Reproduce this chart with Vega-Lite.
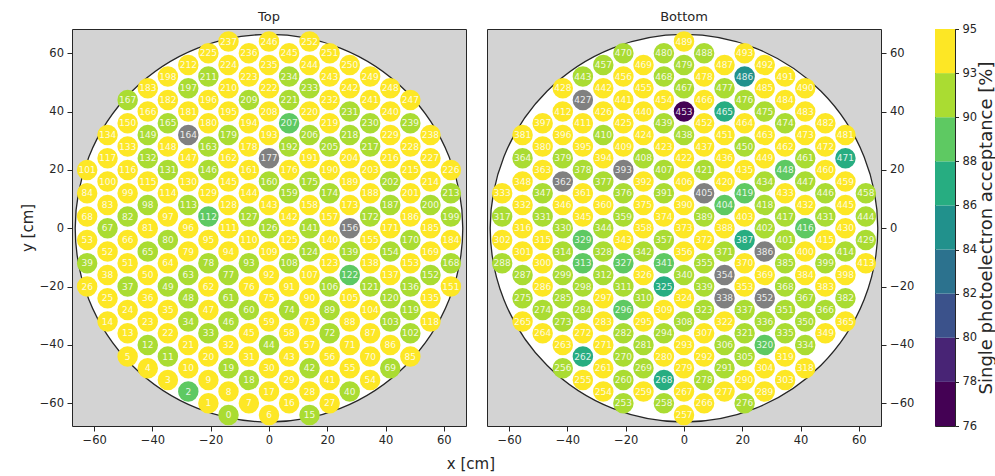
{
"$schema": "https://vega.github.io/schema/vega-lite/v6.json",
"padding": {"left": 19, "top": 10, "right": 0, "bottom": 0},
"config": {
 "font": "DejaVu Sans",
 "axis": {"grid": false, "domain": false, "tickSize": 5, "tickColor": "#262626", "labelFontSize": 11.5, "labelColor": "#262626", "labelPadding": 3.5, "labelFlush": false, "titleFontSize": 15, "titleFontWeight": "normal", "titleColor": "#262626"},
 "title": {"fontSize": 13, "fontWeight": "normal", "color": "#262626", "offset": 5},
 "concat": {"spacing": 19}
},
"title": {"text": "x [cm]", "orient": "bottom", "anchor": "middle", "fontSize": 15, "offset": 10, "dx": -37},
"datasets": {
"top": [
{"n":0,"x":-13.9,"y":-64,"v":91.5},{"n":1,"x":-20.8,"y":-60,"v":94},{"n":2,"x":-27.7,"y":-56,"v":89},{"n":3,"x":-34.7,"y":-52,"v":94},{"n":4,"x":-41.6,"y":-48,"v":94},{"n":5,"x":-48.5,"y":-44,"v":94},
{"n":6,"x":0,"y":-64,"v":94},{"n":7,"x":-6.9,"y":-60,"v":94},{"n":8,"x":-13.9,"y":-56,"v":94},{"n":9,"x":-20.8,"y":-52,"v":94},{"n":10,"x":-27.7,"y":-48,"v":94},{"n":11,"x":-34.7,"y":-44,"v":91.5},{"n":12,"x":-41.6,"y":-40,"v":91.5},{"n":13,"x":-48.5,"y":-36,"v":94},{"n":14,"x":-55.4,"y":-32,"v":94},
{"n":15,"x":13.9,"y":-64,"v":91.5},{"n":16,"x":6.9,"y":-60,"v":94},{"n":17,"x":0,"y":-56,"v":94},{"n":18,"x":-6.9,"y":-52,"v":91.5},{"n":19,"x":-13.9,"y":-48,"v":91.5},{"n":20,"x":-20.8,"y":-44,"v":94},{"n":21,"x":-27.7,"y":-40,"v":94},{"n":22,"x":-34.7,"y":-36,"v":94},{"n":23,"x":-41.6,"y":-32,"v":94},{"n":24,"x":-48.5,"y":-28,"v":94},{"n":25,"x":-55.4,"y":-24,"v":94},{"n":26,"x":-62.4,"y":-20,"v":94},
{"n":27,"x":20.8,"y":-60,"v":94},{"n":28,"x":13.9,"y":-56,"v":94},{"n":29,"x":6.9,"y":-52,"v":94},{"n":30,"x":0,"y":-48,"v":94},{"n":31,"x":-6.9,"y":-44,"v":94},{"n":32,"x":-13.9,"y":-40,"v":94},{"n":33,"x":-20.8,"y":-36,"v":91.5},{"n":34,"x":-27.7,"y":-32,"v":91.5},{"n":35,"x":-34.7,"y":-28,"v":94},{"n":36,"x":-41.6,"y":-24,"v":94},{"n":37,"x":-48.5,"y":-20,"v":91.5},{"n":38,"x":-55.4,"y":-16,"v":94},{"n":39,"x":-62.4,"y":-12,"v":91.5},
{"n":40,"x":27.7,"y":-56,"v":91.5},{"n":41,"x":20.8,"y":-52,"v":94},{"n":42,"x":13.9,"y":-48,"v":91.5},{"n":43,"x":6.9,"y":-44,"v":94},{"n":44,"x":0,"y":-40,"v":91.5},{"n":45,"x":-6.9,"y":-36,"v":94},{"n":46,"x":-13.9,"y":-32,"v":91.5},{"n":47,"x":-20.8,"y":-28,"v":94},{"n":48,"x":-27.7,"y":-24,"v":91.5},{"n":49,"x":-34.7,"y":-20,"v":91.5},{"n":50,"x":-41.6,"y":-16,"v":94},{"n":51,"x":-48.5,"y":-12,"v":94},{"n":52,"x":-55.4,"y":-8,"v":94},{"n":53,"x":-62.4,"y":-4,"v":94},
{"n":54,"x":34.7,"y":-52,"v":94},{"n":55,"x":27.7,"y":-48,"v":94},{"n":56,"x":20.8,"y":-44,"v":94},{"n":57,"x":13.9,"y":-40,"v":94},{"n":58,"x":6.9,"y":-36,"v":94},{"n":59,"x":0,"y":-32,"v":94},{"n":60,"x":-6.9,"y":-28,"v":91.5},{"n":61,"x":-13.9,"y":-24,"v":91.5},{"n":62,"x":-20.8,"y":-20,"v":94},{"n":63,"x":-27.7,"y":-16,"v":91.5},{"n":64,"x":-34.7,"y":-12,"v":94},{"n":65,"x":-41.6,"y":-8,"v":91.5},{"n":66,"x":-48.5,"y":-4,"v":94},{"n":67,"x":-55.4,"y":0,"v":91.5},{"n":68,"x":-62.4,"y":4,"v":94},
{"n":69,"x":41.6,"y":-48,"v":91.5},{"n":70,"x":34.7,"y":-44,"v":94},{"n":71,"x":27.7,"y":-40,"v":94},{"n":72,"x":20.8,"y":-36,"v":91.5},{"n":73,"x":13.9,"y":-32,"v":94},{"n":74,"x":6.9,"y":-28,"v":91.5},{"n":75,"x":0,"y":-24,"v":94},{"n":76,"x":-6.9,"y":-20,"v":94},{"n":77,"x":-13.9,"y":-16,"v":91.5},{"n":78,"x":-20.8,"y":-12,"v":91.5},{"n":79,"x":-27.7,"y":-8,"v":94},{"n":80,"x":-34.7,"y":-4,"v":91.5},{"n":81,"x":-41.6,"y":0,"v":94},{"n":82,"x":-48.5,"y":4,"v":91.5},{"n":83,"x":-55.4,"y":8,"v":94},{"n":84,"x":-62.4,"y":12,"v":94},
{"n":85,"x":48.5,"y":-44,"v":94},{"n":86,"x":41.6,"y":-40,"v":94},{"n":87,"x":34.7,"y":-36,"v":94},{"n":88,"x":27.7,"y":-32,"v":94},{"n":89,"x":20.8,"y":-28,"v":91.5},{"n":90,"x":13.9,"y":-24,"v":94},{"n":91,"x":6.9,"y":-20,"v":94},{"n":92,"x":0,"y":-16,"v":94},{"n":93,"x":-6.9,"y":-12,"v":91.5},{"n":94,"x":-13.9,"y":-8,"v":94},{"n":95,"x":-20.8,"y":-4,"v":94},{"n":96,"x":-27.7,"y":0,"v":94},{"n":97,"x":-34.7,"y":4,"v":94},{"n":98,"x":-41.6,"y":8,"v":91.5},{"n":99,"x":-48.5,"y":12,"v":94},{"n":100,"x":-55.4,"y":16,"v":94},{"n":101,"x":-62.4,"y":20,"v":94},
{"n":102,"x":48.5,"y":-36,"v":91.5},{"n":103,"x":41.6,"y":-32,"v":91.5},{"n":104,"x":34.7,"y":-28,"v":94},{"n":105,"x":27.7,"y":-24,"v":94},{"n":106,"x":20.8,"y":-20,"v":91.5},{"n":107,"x":13.9,"y":-16,"v":94},{"n":108,"x":6.9,"y":-12,"v":91.5},{"n":109,"x":0,"y":-8,"v":94},{"n":110,"x":-6.9,"y":-4,"v":94},{"n":111,"x":-13.9,"y":0,"v":94},{"n":112,"x":-20.8,"y":4,"v":89},{"n":113,"x":-27.7,"y":8,"v":91.5},{"n":114,"x":-34.7,"y":12,"v":94},{"n":115,"x":-41.6,"y":16,"v":94},{"n":116,"x":-48.5,"y":20,"v":94},{"n":117,"x":-55.4,"y":24,"v":94},
{"n":118,"x":55.4,"y":-32,"v":94},{"n":119,"x":48.5,"y":-28,"v":91.5},{"n":120,"x":41.6,"y":-24,"v":91.5},{"n":121,"x":34.7,"y":-20,"v":91.5},{"n":122,"x":27.7,"y":-16,"v":89},{"n":123,"x":20.8,"y":-12,"v":94},{"n":124,"x":13.9,"y":-8,"v":91.5},{"n":125,"x":6.9,"y":-4,"v":94},{"n":126,"x":0,"y":0,"v":91.5},{"n":127,"x":-6.9,"y":4,"v":91.5},{"n":128,"x":-13.9,"y":8,"v":94},{"n":129,"x":-20.8,"y":12,"v":94},{"n":130,"x":-27.7,"y":16,"v":94},{"n":131,"x":-34.7,"y":20,"v":91.5},{"n":132,"x":-41.6,"y":24,"v":91.5},{"n":133,"x":-48.5,"y":28,"v":94},{"n":134,"x":-55.4,"y":32,"v":94},
{"n":135,"x":55.4,"y":-24,"v":94},{"n":136,"x":48.5,"y":-20,"v":91.5},{"n":137,"x":41.6,"y":-16,"v":94},{"n":138,"x":34.7,"y":-12,"v":94},{"n":139,"x":27.7,"y":-8,"v":91.5},{"n":140,"x":20.8,"y":-4,"v":94},{"n":141,"x":13.9,"y":0,"v":91.5},{"n":142,"x":6.9,"y":4,"v":94},{"n":143,"x":0,"y":8,"v":94},{"n":144,"x":-6.9,"y":12,"v":94},{"n":145,"x":-13.9,"y":16,"v":94},{"n":146,"x":-20.8,"y":20,"v":91.5},{"n":147,"x":-27.7,"y":24,"v":94},{"n":148,"x":-34.7,"y":28,"v":94},{"n":149,"x":-41.6,"y":32,"v":91.5},{"n":150,"x":-48.5,"y":36,"v":94},
{"n":151,"x":62.4,"y":-20,"v":94},{"n":152,"x":55.4,"y":-16,"v":91.5},{"n":153,"x":48.5,"y":-12,"v":94},{"n":154,"x":41.6,"y":-8,"v":91.5},{"n":155,"x":34.7,"y":-4,"v":94},{"n":156,"x":27.7,"y":0,"v":null},{"n":157,"x":20.8,"y":4,"v":94},{"n":158,"x":13.9,"y":8,"v":94},{"n":159,"x":6.9,"y":12,"v":91.5},{"n":160,"x":0,"y":16,"v":91.5},{"n":161,"x":-6.9,"y":20,"v":94},{"n":162,"x":-13.9,"y":24,"v":94},{"n":163,"x":-20.8,"y":28,"v":91.5},{"n":164,"x":-27.7,"y":32,"v":null},{"n":165,"x":-34.7,"y":36,"v":91.5},{"n":166,"x":-41.6,"y":40,"v":94},{"n":167,"x":-48.5,"y":44,"v":91.5},
{"n":168,"x":62.4,"y":-12,"v":91.5},{"n":169,"x":55.4,"y":-8,"v":94},{"n":170,"x":48.5,"y":-4,"v":91.5},{"n":171,"x":41.6,"y":0,"v":94},{"n":172,"x":34.7,"y":4,"v":91.5},{"n":173,"x":27.7,"y":8,"v":94},{"n":174,"x":20.8,"y":12,"v":91.5},{"n":175,"x":13.9,"y":16,"v":91.5},{"n":176,"x":6.9,"y":20,"v":94},{"n":177,"x":0,"y":24,"v":null},{"n":178,"x":-6.9,"y":28,"v":94},{"n":179,"x":-13.9,"y":32,"v":91.5},{"n":180,"x":-20.8,"y":36,"v":94},{"n":181,"x":-27.7,"y":40,"v":94},{"n":182,"x":-34.7,"y":44,"v":94},{"n":183,"x":-41.6,"y":48,"v":94},
{"n":184,"x":62.4,"y":-4,"v":94},{"n":185,"x":55.4,"y":0,"v":94},{"n":186,"x":48.5,"y":4,"v":94},{"n":187,"x":41.6,"y":8,"v":91.5},{"n":188,"x":34.7,"y":12,"v":94},{"n":189,"x":27.7,"y":16,"v":94},{"n":190,"x":20.8,"y":20,"v":94},{"n":191,"x":13.9,"y":24,"v":94},{"n":192,"x":6.9,"y":28,"v":91.5},{"n":193,"x":0,"y":32,"v":94},{"n":194,"x":-6.9,"y":36,"v":94},{"n":195,"x":-13.9,"y":40,"v":94},{"n":196,"x":-20.8,"y":44,"v":94},{"n":197,"x":-27.7,"y":48,"v":91.5},{"n":198,"x":-34.7,"y":52,"v":94},
{"n":199,"x":62.4,"y":4,"v":91.5},{"n":200,"x":55.4,"y":8,"v":91.5},{"n":201,"x":48.5,"y":12,"v":94},{"n":202,"x":41.6,"y":16,"v":91.5},{"n":203,"x":34.7,"y":20,"v":94},{"n":204,"x":27.7,"y":24,"v":94},{"n":205,"x":20.8,"y":28,"v":91.5},{"n":206,"x":13.9,"y":32,"v":91.5},{"n":207,"x":6.9,"y":36,"v":89},{"n":208,"x":0,"y":40,"v":94},{"n":209,"x":-6.9,"y":44,"v":91.5},{"n":210,"x":-13.9,"y":48,"v":94},{"n":211,"x":-20.8,"y":52,"v":91.5},{"n":212,"x":-27.7,"y":56,"v":94},
{"n":213,"x":62.4,"y":12,"v":91.5},{"n":214,"x":55.4,"y":16,"v":94},{"n":215,"x":48.5,"y":20,"v":94},{"n":216,"x":41.6,"y":24,"v":94},{"n":217,"x":34.7,"y":28,"v":91.5},{"n":218,"x":27.7,"y":32,"v":91.5},{"n":219,"x":20.8,"y":36,"v":94},{"n":220,"x":13.9,"y":40,"v":94},{"n":221,"x":6.9,"y":44,"v":91.5},{"n":222,"x":0,"y":48,"v":94},{"n":223,"x":-6.9,"y":52,"v":94},{"n":224,"x":-13.9,"y":56,"v":94},{"n":225,"x":-20.8,"y":60,"v":94},
{"n":226,"x":62.4,"y":20,"v":94},{"n":227,"x":55.4,"y":24,"v":94},{"n":228,"x":48.5,"y":28,"v":94},{"n":229,"x":41.6,"y":32,"v":94},{"n":230,"x":34.7,"y":36,"v":91.5},{"n":231,"x":27.7,"y":40,"v":91.5},{"n":232,"x":20.8,"y":44,"v":94},{"n":233,"x":13.9,"y":48,"v":91.5},{"n":234,"x":6.9,"y":52,"v":91.5},{"n":235,"x":0,"y":56,"v":94},{"n":236,"x":-6.9,"y":60,"v":94},{"n":237,"x":-13.9,"y":64,"v":94},
{"n":238,"x":55.4,"y":32,"v":94},{"n":239,"x":48.5,"y":36,"v":91.5},{"n":240,"x":41.6,"y":40,"v":94},{"n":241,"x":34.7,"y":44,"v":94},{"n":242,"x":27.7,"y":48,"v":94},{"n":243,"x":20.8,"y":52,"v":94},{"n":244,"x":13.9,"y":56,"v":94},{"n":245,"x":6.9,"y":60,"v":94},{"n":246,"x":0,"y":64,"v":94},
{"n":247,"x":48.5,"y":44,"v":94},{"n":248,"x":41.6,"y":48,"v":94},{"n":249,"x":34.7,"y":52,"v":94},{"n":250,"x":27.7,"y":56,"v":94},{"n":251,"x":20.8,"y":60,"v":94},{"n":252,"x":13.9,"y":64,"v":94}
],
"bottom": [
{"n":253,"x":-20.8,"y":-60,"v":91.5},{"n":254,"x":-27.7,"y":-56,"v":94},{"n":255,"x":-34.7,"y":-52,"v":94},{"n":256,"x":-41.6,"y":-48,"v":91.5},
{"n":257,"x":0,"y":-64,"v":94},{"n":258,"x":-6.9,"y":-60,"v":91.5},{"n":259,"x":-13.9,"y":-56,"v":94},{"n":260,"x":-20.8,"y":-52,"v":91.5},{"n":261,"x":-27.7,"y":-48,"v":94},{"n":262,"x":-34.7,"y":-44,"v":87},{"n":263,"x":-41.6,"y":-40,"v":94},{"n":264,"x":-48.5,"y":-36,"v":94},{"n":265,"x":-55.4,"y":-32,"v":94},
{"n":266,"x":6.9,"y":-60,"v":94},{"n":267,"x":0,"y":-56,"v":94},{"n":268,"x":-6.9,"y":-52,"v":87},{"n":269,"x":-13.9,"y":-48,"v":91.5},{"n":270,"x":-20.8,"y":-44,"v":91.5},{"n":271,"x":-27.7,"y":-40,"v":94},{"n":272,"x":-34.7,"y":-36,"v":94},{"n":273,"x":-41.6,"y":-32,"v":91.5},{"n":274,"x":-48.5,"y":-28,"v":91.5},{"n":275,"x":-55.4,"y":-24,"v":91.5},
{"n":276,"x":20.8,"y":-60,"v":91.5},{"n":277,"x":13.9,"y":-56,"v":94},{"n":278,"x":6.9,"y":-52,"v":91.5},{"n":279,"x":0,"y":-48,"v":94},{"n":280,"x":-6.9,"y":-44,"v":94},{"n":281,"x":-13.9,"y":-40,"v":91.5},{"n":282,"x":-20.8,"y":-36,"v":91.5},{"n":283,"x":-27.7,"y":-32,"v":94},{"n":284,"x":-34.7,"y":-28,"v":91.5},{"n":285,"x":-41.6,"y":-24,"v":91.5},{"n":286,"x":-48.5,"y":-20,"v":94},{"n":287,"x":-55.4,"y":-16,"v":91.5},{"n":288,"x":-62.4,"y":-12,"v":91.5},
{"n":289,"x":27.7,"y":-56,"v":94},{"n":290,"x":20.8,"y":-52,"v":94},{"n":291,"x":13.9,"y":-48,"v":91.5},{"n":292,"x":6.9,"y":-44,"v":94},{"n":293,"x":0,"y":-40,"v":94},{"n":294,"x":-6.9,"y":-36,"v":91.5},{"n":295,"x":-13.9,"y":-32,"v":94},{"n":296,"x":-20.8,"y":-28,"v":89},{"n":297,"x":-27.7,"y":-24,"v":94},{"n":298,"x":-34.7,"y":-20,"v":91.5},{"n":299,"x":-41.6,"y":-16,"v":91.5},{"n":300,"x":-48.5,"y":-12,"v":94},{"n":301,"x":-55.4,"y":-8,"v":94},{"n":302,"x":-62.4,"y":-4,"v":94},
{"n":303,"x":34.7,"y":-52,"v":94},{"n":304,"x":27.7,"y":-48,"v":94},{"n":305,"x":20.8,"y":-44,"v":91.5},{"n":306,"x":13.9,"y":-40,"v":91.5},{"n":307,"x":6.9,"y":-36,"v":94},{"n":308,"x":0,"y":-32,"v":91.5},{"n":309,"x":-6.9,"y":-28,"v":94},{"n":310,"x":-13.9,"y":-24,"v":91.5},{"n":311,"x":-20.8,"y":-20,"v":91.5},{"n":312,"x":-27.7,"y":-16,"v":91.5},{"n":313,"x":-34.7,"y":-12,"v":89},{"n":314,"x":-41.6,"y":-8,"v":91.5},{"n":315,"x":-48.5,"y":-4,"v":94},{"n":316,"x":-55.4,"y":0,"v":94},{"n":317,"x":-62.4,"y":4,"v":91.5},
{"n":318,"x":41.6,"y":-48,"v":94},{"n":319,"x":34.7,"y":-44,"v":94},{"n":320,"x":27.7,"y":-40,"v":89},{"n":321,"x":20.8,"y":-36,"v":91.5},{"n":322,"x":13.9,"y":-32,"v":94},{"n":323,"x":6.9,"y":-28,"v":91.5},{"n":324,"x":0,"y":-24,"v":94},{"n":325,"x":-6.9,"y":-20,"v":87},{"n":326,"x":-13.9,"y":-16,"v":94},{"n":327,"x":-20.8,"y":-12,"v":89},{"n":328,"x":-27.7,"y":-8,"v":91.5},{"n":329,"x":-34.7,"y":-4,"v":89},{"n":330,"x":-41.6,"y":0,"v":91.5},{"n":331,"x":-48.5,"y":4,"v":91.5},{"n":332,"x":-55.4,"y":8,"v":94},{"n":333,"x":-62.4,"y":12,"v":94},
{"n":334,"x":41.6,"y":-40,"v":91.5},{"n":335,"x":34.7,"y":-36,"v":91.5},{"n":336,"x":27.7,"y":-32,"v":91.5},{"n":337,"x":20.8,"y":-28,"v":91.5},{"n":338,"x":13.9,"y":-24,"v":null},{"n":339,"x":6.9,"y":-20,"v":91.5},{"n":340,"x":0,"y":-16,"v":91.5},{"n":341,"x":-6.9,"y":-12,"v":89},{"n":342,"x":-13.9,"y":-8,"v":91.5},{"n":343,"x":-20.8,"y":-4,"v":94},{"n":344,"x":-27.7,"y":0,"v":91.5},{"n":345,"x":-34.7,"y":4,"v":94},{"n":346,"x":-41.6,"y":8,"v":94},{"n":347,"x":-48.5,"y":12,"v":91.5},{"n":348,"x":-55.4,"y":16,"v":94},
{"n":349,"x":48.5,"y":-36,"v":94},{"n":350,"x":41.6,"y":-32,"v":91.5},{"n":351,"x":34.7,"y":-28,"v":91.5},{"n":352,"x":27.7,"y":-24,"v":null},{"n":353,"x":20.8,"y":-20,"v":94},{"n":354,"x":13.9,"y":-16,"v":null},{"n":355,"x":6.9,"y":-12,"v":91.5},{"n":356,"x":0,"y":-8,"v":94},{"n":357,"x":-6.9,"y":-4,"v":91.5},{"n":358,"x":-13.9,"y":0,"v":94},{"n":359,"x":-20.8,"y":4,"v":91.5},{"n":360,"x":-27.7,"y":8,"v":94},{"n":361,"x":-34.7,"y":12,"v":94},{"n":362,"x":-41.6,"y":16,"v":null},{"n":363,"x":-48.5,"y":20,"v":94},{"n":364,"x":-55.4,"y":24,"v":91.5},
{"n":365,"x":55.4,"y":-32,"v":94},{"n":366,"x":48.5,"y":-28,"v":91.5},{"n":367,"x":41.6,"y":-24,"v":91.5},{"n":368,"x":34.7,"y":-20,"v":91.5},{"n":369,"x":27.7,"y":-16,"v":94},{"n":370,"x":20.8,"y":-12,"v":94},{"n":371,"x":13.9,"y":-8,"v":91.5},{"n":372,"x":6.9,"y":-4,"v":94},{"n":373,"x":0,"y":0,"v":94},{"n":374,"x":-6.9,"y":4,"v":94},{"n":375,"x":-13.9,"y":8,"v":94},{"n":376,"x":-20.8,"y":12,"v":91.5},{"n":377,"x":-27.7,"y":16,"v":91.5},{"n":378,"x":-34.7,"y":20,"v":91.5},{"n":379,"x":-41.6,"y":24,"v":91.5},{"n":380,"x":-48.5,"y":28,"v":94},{"n":381,"x":-55.4,"y":32,"v":94},
{"n":382,"x":55.4,"y":-24,"v":91.5},{"n":383,"x":48.5,"y":-20,"v":94},{"n":384,"x":41.6,"y":-16,"v":94},{"n":385,"x":34.7,"y":-12,"v":91.5},{"n":386,"x":27.7,"y":-8,"v":null},{"n":387,"x":20.8,"y":-4,"v":87},{"n":388,"x":13.9,"y":0,"v":94},{"n":389,"x":6.9,"y":4,"v":91.5},{"n":390,"x":0,"y":8,"v":94},{"n":391,"x":-6.9,"y":12,"v":91.5},{"n":392,"x":-13.9,"y":16,"v":94},{"n":393,"x":-20.8,"y":20,"v":null},{"n":394,"x":-27.7,"y":24,"v":94},{"n":395,"x":-34.7,"y":28,"v":94},{"n":396,"x":-41.6,"y":32,"v":94},{"n":397,"x":-48.5,"y":36,"v":94},
{"n":398,"x":55.4,"y":-16,"v":94},{"n":399,"x":48.5,"y":-12,"v":91.5},{"n":400,"x":41.6,"y":-8,"v":94},{"n":401,"x":34.7,"y":-4,"v":91.5},{"n":402,"x":27.7,"y":0,"v":91.5},{"n":403,"x":20.8,"y":4,"v":94},{"n":404,"x":13.9,"y":8,"v":89},{"n":405,"x":6.9,"y":12,"v":null},{"n":406,"x":0,"y":16,"v":94},{"n":407,"x":-6.9,"y":20,"v":91.5},{"n":408,"x":-13.9,"y":24,"v":91.5},{"n":409,"x":-20.8,"y":28,"v":94},{"n":410,"x":-27.7,"y":32,"v":91.5},{"n":411,"x":-34.7,"y":36,"v":94},{"n":412,"x":-41.6,"y":40,"v":94},
{"n":413,"x":62.4,"y":-12,"v":94},{"n":414,"x":55.4,"y":-8,"v":91.5},{"n":415,"x":48.5,"y":-4,"v":94},{"n":416,"x":41.6,"y":0,"v":89},{"n":417,"x":34.7,"y":4,"v":91.5},{"n":418,"x":27.7,"y":8,"v":91.5},{"n":419,"x":20.8,"y":12,"v":89},{"n":420,"x":13.9,"y":16,"v":94},{"n":421,"x":6.9,"y":20,"v":91.5},{"n":422,"x":0,"y":24,"v":94},{"n":423,"x":-6.9,"y":28,"v":94},{"n":424,"x":-13.9,"y":32,"v":94},{"n":425,"x":-20.8,"y":36,"v":94},{"n":426,"x":-27.7,"y":40,"v":94},{"n":427,"x":-34.7,"y":44,"v":null},{"n":428,"x":-41.6,"y":48,"v":94},
{"n":429,"x":62.4,"y":-4,"v":91.5},{"n":430,"x":55.4,"y":0,"v":94},{"n":431,"x":48.5,"y":4,"v":91.5},{"n":432,"x":41.6,"y":8,"v":94},{"n":433,"x":34.7,"y":12,"v":94},{"n":434,"x":27.7,"y":16,"v":91.5},{"n":435,"x":20.8,"y":20,"v":94},{"n":436,"x":13.9,"y":24,"v":94},{"n":437,"x":6.9,"y":28,"v":94},{"n":438,"x":0,"y":32,"v":91.5},{"n":439,"x":-6.9,"y":36,"v":91.5},{"n":440,"x":-13.9,"y":40,"v":94},{"n":441,"x":-20.8,"y":44,"v":94},{"n":442,"x":-27.7,"y":48,"v":94},{"n":443,"x":-34.7,"y":52,"v":91.5},
{"n":444,"x":62.4,"y":4,"v":91.5},{"n":445,"x":55.4,"y":8,"v":94},{"n":446,"x":48.5,"y":12,"v":91.5},{"n":447,"x":41.6,"y":16,"v":91.5},{"n":448,"x":34.7,"y":20,"v":89},{"n":449,"x":27.7,"y":24,"v":94},{"n":450,"x":20.8,"y":28,"v":91.5},{"n":451,"x":13.9,"y":32,"v":94},{"n":452,"x":6.9,"y":36,"v":94},{"n":453,"x":0,"y":40,"v":77},{"n":454,"x":-6.9,"y":44,"v":94},{"n":455,"x":-13.9,"y":48,"v":94},{"n":456,"x":-20.8,"y":52,"v":94},{"n":457,"x":-27.7,"y":56,"v":91.5},
{"n":458,"x":62.4,"y":12,"v":91.5},{"n":459,"x":55.4,"y":16,"v":94},{"n":460,"x":48.5,"y":20,"v":94},{"n":461,"x":41.6,"y":24,"v":91.5},{"n":462,"x":34.7,"y":28,"v":94},{"n":463,"x":27.7,"y":32,"v":94},{"n":464,"x":20.8,"y":36,"v":94},{"n":465,"x":13.9,"y":40,"v":87},{"n":466,"x":6.9,"y":44,"v":94},{"n":467,"x":0,"y":48,"v":91.5},{"n":468,"x":-6.9,"y":52,"v":91.5},{"n":469,"x":-13.9,"y":56,"v":94},{"n":470,"x":-20.8,"y":60,"v":91.5},
{"n":471,"x":55.4,"y":24,"v":87},{"n":472,"x":48.5,"y":28,"v":94},{"n":473,"x":41.6,"y":32,"v":94},{"n":474,"x":34.7,"y":36,"v":91.5},{"n":475,"x":27.7,"y":40,"v":91.5},{"n":476,"x":20.8,"y":44,"v":91.5},{"n":477,"x":13.9,"y":48,"v":91.5},{"n":478,"x":6.9,"y":52,"v":94},{"n":479,"x":0,"y":56,"v":91.5},{"n":480,"x":-6.9,"y":60,"v":91.5},
{"n":481,"x":55.4,"y":32,"v":94},{"n":482,"x":48.5,"y":36,"v":94},{"n":483,"x":41.6,"y":40,"v":94},{"n":484,"x":34.7,"y":44,"v":94},{"n":485,"x":27.7,"y":48,"v":94},{"n":486,"x":20.8,"y":52,"v":85},{"n":487,"x":13.9,"y":56,"v":94},{"n":488,"x":6.9,"y":60,"v":91.5},{"n":489,"x":0,"y":64,"v":94},
{"n":490,"x":41.6,"y":48,"v":94},{"n":491,"x":34.7,"y":52,"v":94},{"n":492,"x":27.7,"y":56,"v":94},{"n":493,"x":20.8,"y":60,"v":94}
]
},
"hconcat": [
{
 "title": "Top",
 "width": 394, "height": 397,
 "view": {"fill": "#d3d3d3", "stroke": "#262626", "strokeWidth": 1},
 "layer": [
  {"data": {"values": [{"x": 0, "y": 0}]},
   "mark": {"type": "circle", "size": 150200, "fill": "white", "stroke": "#262626", "strokeWidth": 1.3, "opacity": 1},
   "encoding": {
    "x": {"field": "x", "type": "quantitative", "scale": {"domain": [-67.6, 67.6], "nice": false, "zero": false}, "axis": {"values": [-60, -40, -20, 0, 20, 40, 60], "title": null}},
    "y": {"field": "y", "type": "quantitative", "scale": {"domain": [-67.8, 68.3], "nice": false, "zero": false}, "axis": {"values": [-60, -40, -20, 0, 20, 40, 60], "title": "y [cm]"}}
   }},
  {"data": {"name": "top"},
   "mark": {"type": "circle", "size": 420, "opacity": 1, "invalid": "show"},
   "encoding": {
    "x": {"field": "x", "type": "quantitative"},
    "y": {"field": "y", "type": "quantitative"},
    "color": {"condition": {"test": "datum.v == null", "value": "#808080"}, "field": "v", "type": "quantitative", "legend": null,
      "scale": {"type": "threshold", "domain": [78, 80, 82, 84, 86, 88, 90, 93], "range": ["#440154", "#482475", "#3b528b", "#2c728e", "#21918c", "#27ad81", "#5ec962", "#aadc32", "#fde725"]}}
   }},
  {"data": {"name": "top"},
   "mark": {"type": "text", "fontSize": 9, "color": "white", "opacity": 0.85, "baseline": "middle", "align": "center"},
   "encoding": {
    "x": {"field": "x", "type": "quantitative"},
    "y": {"field": "y", "type": "quantitative"},
    "text": {"field": "n"}
   }}
 ]
},
{
 "title": "Bottom",
 "width": 394, "height": 397,
 "view": {"fill": "#d3d3d3", "stroke": "#262626", "strokeWidth": 1},
 "layer": [
  {"data": {"values": [{"x": 0, "y": 0}]},
   "mark": {"type": "circle", "size": 150200, "fill": "white", "stroke": "#262626", "strokeWidth": 1.3, "opacity": 1},
   "encoding": {
    "x": {"field": "x", "type": "quantitative", "scale": {"domain": [-67.6, 67.6], "nice": false, "zero": false}, "axis": {"values": [-60, -40, -20, 0, 20, 40, 60], "title": null}},
    "y": {"field": "y", "type": "quantitative", "scale": {"domain": [-67.8, 68.3], "nice": false, "zero": false}, "axis": {"values": [-60, -40, -20, 0, 20, 40, 60], "title": null, "orient": "right"}}
   }},
  {"data": {"name": "bottom"},
   "mark": {"type": "circle", "size": 420, "opacity": 1, "invalid": "show"},
   "encoding": {
    "x": {"field": "x", "type": "quantitative"},
    "y": {"field": "y", "type": "quantitative"},
    "color": {"condition": {"test": "datum.v == null", "value": "#808080"}, "field": "v", "type": "quantitative", "legend": null,
      "scale": {"type": "threshold", "domain": [78, 80, 82, 84, 86, 88, 90, 93], "range": ["#440154", "#482475", "#3b528b", "#2c728e", "#21918c", "#27ad81", "#5ec962", "#aadc32", "#fde725"]}}
   }},
  {"data": {"name": "bottom"},
   "mark": {"type": "text", "fontSize": 9, "color": "white", "opacity": 0.85, "baseline": "middle", "align": "center"},
   "encoding": {
    "x": {"field": "x", "type": "quantitative"},
    "y": {"field": "y", "type": "quantitative"},
    "text": {"field": "n"}
   }}
 ]
},
{
 "width": 20, "height": 397,
 "view": {"stroke": "#262626", "strokeWidth": 1},
 "data": {"values": [{"k":0,"k2":1,"v":77},{"k":1,"k2":2,"v":79},{"k":2,"k2":3,"v":81},{"k":3,"k2":4,"v":83},{"k":4,"k2":5,"v":85},{"k":5,"k2":6,"v":87},{"k":6,"k2":7,"v":89},{"k":7,"k2":8,"v":91.5},{"k":8,"k2":9,"v":94}]},
 "mark": {"type": "rect"},
 "encoding": {
  "y": {"field": "k", "type": "quantitative", "scale": {"domain": [0, 9], "nice": false, "zero": false},
    "axis": {"orient": "right", "values": [0,1,2,3,4,5,6,7,8,9], "tickSize": 3.5, "labelExpr": "['76','78','80','82','84','86','88','90','93','95'][datum.value]", "title": "Single photoelectron acceptance [%]", "titleFontSize": 18, "titleAngle": 270, "titleBaseline": "top", "titlePadding": 1}},
  "y2": {"field": "k2"},
  "color": {"field": "v", "type": "quantitative", "legend": null,
    "scale": {"type": "threshold", "domain": [78, 80, 82, 84, 86, 88, 90, 93], "range": ["#440154", "#482475", "#3b528b", "#2c728e", "#21918c", "#27ad81", "#5ec962", "#aadc32", "#fde725"]}}
 }
}
]
}
